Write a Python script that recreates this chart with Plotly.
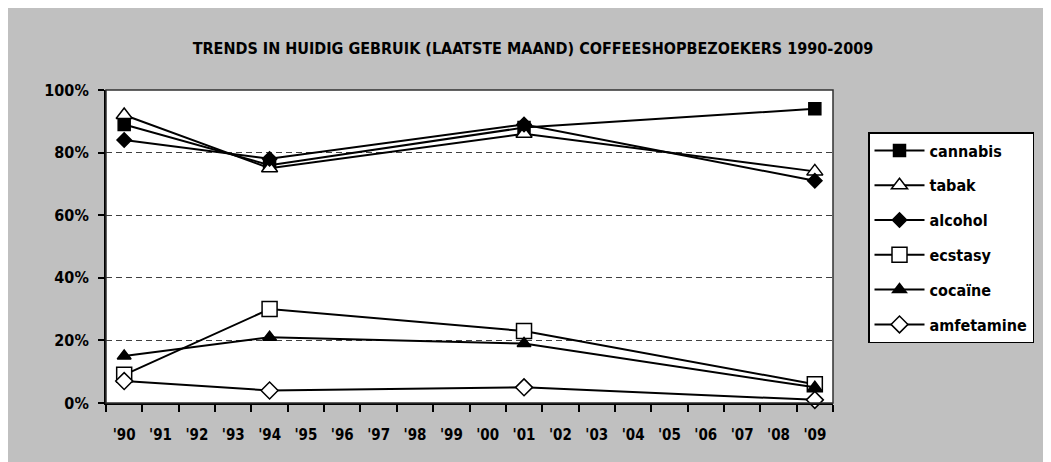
import plotly.graph_objects as go

all_years = ["'90", "'91", "'92", "'93", "'94", "'95", "'96", "'97", "'98", "'99",
             "'00", "'01", "'02", "'03", "'04", "'05", "'06", "'07", "'08", "'09"]
survey_years = ["'90", "'94", "'01", "'09"]

cannabis = [0.89, 0.76, 0.88, 0.94]
tabak = [0.92, 0.75, 0.86, 0.74]
alcohol = [0.84, 0.78, 0.89, 0.71]
ecstasy = [0.09, 0.30, 0.23, 0.06]
cocaine = [0.15, 0.21, 0.19, 0.05]
amfetamine = [0.07, 0.04, 0.05, 0.01]

y_ticks = [0, 0.2, 0.4, 0.6, 0.8, 1.0]
y_ticktext = ["0%", "20%", "40%", "60%", "80%", "100%"]

series = [
    ("cannabis", cannabis, "square", "black", 12),
    ("tabak", tabak, "triangle-up", "white", 14),
    ("alcohol", alcohol, "diamond", "black", 11),
    ("ecstasy", ecstasy, "square", "white", 15),
    ("cocaïne", cocaine, "triangle-up", "black", 12),
    ("amfetamine", amfetamine, "diamond", "white", 13),
]

FONT = "DejaVu Sans Condensed, Liberation Sans, Arial, sans-serif"

fig = go.Figure()
for i, (name, vals, sym, fill, size) in enumerate(series):
    fig.add_trace(go.Scatter(
        x=survey_years, y=vals, name=name, mode="lines+markers",
        legendgroup=f"g{i}",
        line=dict(color="black", width=2),
        marker=dict(symbol=sym, color=fill, size=size,
                    line=dict(color="black", width=1.5)),
        cliponaxis=False,
    ))

# page is offset by the 8px body margin
OFF = 8
W, H = 1051, 462
L, R, T, B = 106 - OFF, W - (833 - OFF), 90 - OFF, H - (403 - OFF)
pw, ph = W - L - R, H - T - B

def px_x(p):
    return (p - OFF - L) / pw

def px_y(p):
    return (H - B - (p - OFF)) / ph

fig.update_layout(
    width=W, height=H,
    margin=dict(l=L, r=R, t=T, b=B),
    paper_bgcolor="#c0c0c0",
    plot_bgcolor="white",
    font=dict(family=FONT, size=15, color="black"),
    title=dict(text="<b>TRENDS IN HUIDIG GEBRUIK (LAATSTE MAAND) COFFEESHOPBEZOEKERS 1990-2009</b>",
               x=(533 - OFF) / W, xanchor="center", y=1 - (48 - OFF) / H, yanchor="middle",
               font=dict(family=FONT, size=16, color="black")),
    xaxis=dict(type="category", categoryorder="array", categoryarray=all_years,
               range=[-0.5, 19.5], tickson="boundaries", ticks="outside",
               ticklen=7, tickwidth=2, tickcolor="black",
               showline=True, linecolor="black", linewidth=2,
               showgrid=False, zeroline=False,
               tickfont=dict(family=FONT, size=15, color="black", weight="bold"),
               ticklabelstandoff=17),
    yaxis=dict(range=[0, 1], tickvals=y_ticks, ticktext=y_ticktext,
               ticks="outside", ticklen=6, tickwidth=2, tickcolor="black",
               showline=True, linecolor="black", linewidth=2,
               showgrid=True, gridcolor="#404040", gridwidth=1, griddash="6px,4px",
               zeroline=False,
               tickfont=dict(family=FONT, size=16, color="black", weight="bold"),
               ticklabelstandoff=6),
    legend=dict(x=px_x(868), y=px_y(132), xanchor="left", yanchor="top",
                bgcolor="white", bordercolor="black", borderwidth=1.5,
                tracegroupgap=11, itemwidth=50,
                font=dict(family=FONT, size=16, color="black", weight="bold")),
    showlegend=True,
    shapes=[
        dict(type="rect", xref="paper", yref="paper", x0=0, x1=1, y0=0, y1=1,
             line=dict(color="#303030", width=1.5), layer="above"),
    ],
)

fig.write_html("out.html")
